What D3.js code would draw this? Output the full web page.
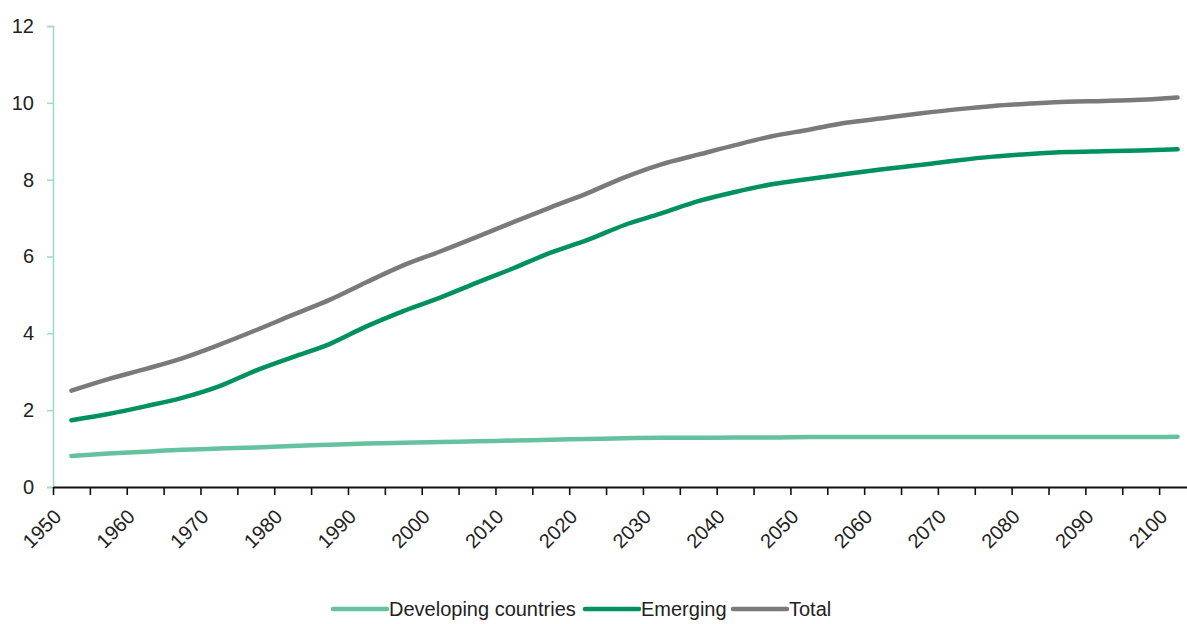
<!DOCTYPE html>
<html>
<head>
<meta charset="utf-8">
<script src="https://cdn.jsdelivr.net/npm/d3@7"></script>
<style>
  body { margin: 0; background: #fff; }
  text { font-family: "Liberation Sans", Arial, sans-serif; fill: #222; }
</style>
</head>
<body>
<svg width="1187" height="624"></svg>
<script>
const years = d3.range(1950, 2101, 5)
const labelYears = d3.range(1950, 2101, 10)
const yTicks = [0, 2, 4, 6, 8, 10, 12]

// billions
const developing = [0.81, 0.87, 0.92, 0.97, 1.00, 1.03, 1.07, 1.10, 1.13, 1.15, 1.17,
  1.19, 1.21, 1.23, 1.25, 1.27, 1.28, 1.28, 1.29, 1.29, 1.30, 1.30, 1.30, 1.30,
  1.30, 1.30, 1.30, 1.30, 1.30, 1.30, 1.31]
const emerging = [1.74, 1.90, 2.10, 2.32, 2.62, 3.03, 3.38, 3.72, 4.18, 4.58, 4.93,
  5.32, 5.70, 6.10, 6.43, 6.82, 7.12, 7.44, 7.68, 7.88, 8.02, 8.15, 8.27, 8.38,
  8.50, 8.60, 8.67, 8.72, 8.74, 8.76, 8.79]
const total = [2.51, 2.81, 3.07, 3.35, 3.70, 4.08, 4.48, 4.87, 5.33, 5.77, 6.13,
  6.51, 6.90, 7.28, 7.65, 8.06, 8.40, 8.65, 8.90, 9.13, 9.30, 9.48, 9.60, 9.72,
  9.83, 9.92, 9.98, 10.03, 10.05, 10.08, 10.14]

const seriesNames = ["Developing countries", "Emerging", "Total"]
const seriesColors = ["#66c29e", "#00915e", "#7a7a7a"]
const seriesValues = [developing, emerging, total]

const svg = d3.select("svg")
const plotLeft = 53, plotRight = 1196, plotTop = 26, plotBottom = 487

// categories sit between tick marks, like the original spreadsheet chart
const x = d3.scaleBand().domain(years).range([plotLeft, plotRight])
const y = d3.scaleLinear().domain([0, 12]).range([plotBottom, plotTop])

// y axis
const yAxis = svg.append("g")
  .attr("transform", `translate(${plotLeft},0)`)
  .call(d3.axisLeft(y).tickValues(yTicks).tickSize(6).tickPadding(13))
yAxis.select(".domain").attr("stroke", "#a3dcc6").attr("stroke-width", 1.6)
yAxis.selectAll(".tick line").attr("stroke", "#a3dcc6").attr("stroke-width", 1.6)
yAxis.selectAll("text").attr("font-size", 20).attr("fill", "#222")
  .attr("font-family", "Liberation Sans, Arial, sans-serif")

// x axis: ticks at category edges
const xAxis = svg.append("g")
  .attr("transform", `translate(0,${plotBottom})`)
  .call(d3.axisBottom(d3.scaleLinear().domain([1950, 2105]).range([plotLeft, plotRight]))
    .tickValues(years).tickSize(8).tickSizeOuter(0)
    .tickFormat(d => labelYears.includes(d) ? d : ""))
xAxis.select(".domain").attr("stroke", "#111").attr("stroke-width", 2)
xAxis.selectAll(".tick line").attr("stroke", "#111").attr("stroke-width", 1.6)
xAxis.selectAll("text")
  .attr("font-size", 20).attr("fill", "#222")
  .attr("font-family", "Liberation Sans, Arial, sans-serif")
  .attr("text-anchor", "end")
  .attr("dy", null)
  .attr("y", 0)
  .attr("transform", "translate(9,31) rotate(-45)")

// lines
const line = d3.line()
  .x((d, i) => x(years[i]) + x.bandwidth() / 2)
  .y(d => y(d))
  .curve(d3.curveMonotoneX)

svg.append("g").selectAll("path")
  .data(seriesValues)
  .join("path")
  .attr("d", line)
  .attr("fill", "none")
  .attr("stroke", (d, i) => seriesColors[i])
  .attr("stroke-width", 4.5)
  .attr("stroke-linecap", "round")

// legend
const legendX = [333, 585, 733]
const legend = svg.append("g").attr("transform", "translate(0,609)")
const items = legend.selectAll("g").data(seriesNames).join("g")
  .attr("transform", (d, i) => `translate(${legendX[i]},0)`)
items.append("line")
  .attr("x1", 0).attr("x2", 54)
  .attr("stroke", (d, i) => seriesColors[i])
  .attr("stroke-width", 4.5)
  .attr("stroke-linecap", "round")
items.append("text")
  .attr("x", 56).attr("y", 7)
  .attr("font-size", 20)
  .text(d => d)
</script>
</body>
</html>
